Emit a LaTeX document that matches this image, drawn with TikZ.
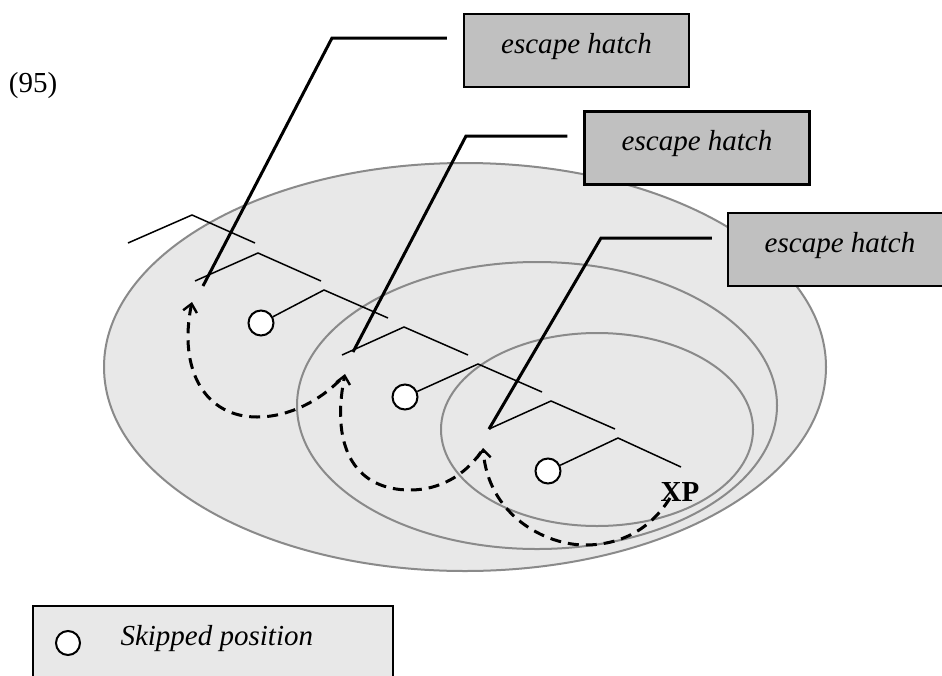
\documentclass[tikz,border=0pt]{standalone}
\usepackage{fontspec}
\setmainfont{Liberation Serif}
\usetikzlibrary{arrows.meta}
\definecolor{ellfill}{HTML}{E8E8E8}
\definecolor{ellline}{HTML}{8A8A8A}
\definecolor{boxfill}{HTML}{C0C0C0}
\newcommand\diagfont{\fontsize{29}{35}\selectfont}
\tikzset{
  region/.style={fill=ellfill, draw=ellline, line width=2pt},
  branch/.style={line width=1.5pt},
  leader/.style={line width=3pt},
  hatchbox/.style={draw, line width=2.5pt, fill=boxfill, minimum width=225pt,
    minimum height=73pt, inner sep=0pt, text height=12pt, text depth=7pt,
    font=\diagfont\itshape},
  skipped/.style={circle, draw, fill=white, line width=2pt, minimum size=25pt, inner sep=0pt},
  movearrow/.style={line width=3pt, dash pattern=on 11pt off 7pt,
    -{Straight Barb[length=8pt,width=14pt,line width=2.4pt]}},
  plain/.style={font=\diagfont}
}
\begin{document}
\begin{tikzpicture}[x=1pt,y=-1pt]
\useasboundingbox (0,0) rectangle (942,675);
\fill[white] (0,0) rectangle (942,675);
\clip (0,0) rectangle (942,675);

% nested regions
\draw[region] (465,367) ellipse [x radius=361, y radius=204];
\draw[region] (537,405.5) ellipse [x radius=240, y radius=143.5];
\draw[region] (597,429.5) ellipse [x radius=156, y radius=96.5];

% tree points
\coordinate (a1) at (128,243); \coordinate (a2) at (192,215); \coordinate (a3) at (255,243);
\coordinate (b1) at (195,281); \coordinate (b2) at (258,253); \coordinate (b3) at (321,281);
\node[skipped] (s1) at (261,323) {};
\coordinate (c2) at (324,290); \coordinate (c3) at (388,318);
\coordinate (d1) at (342,355); \coordinate (d2) at (404,327); \coordinate (d3) at (468,355);
\node[skipped] (s2) at (405,397) {};
\coordinate (e2) at (478,364); \coordinate (e3) at (542,392);
\coordinate (f1) at (489,429); \coordinate (f2) at (551,401); \coordinate (f3) at (615,429);
\node[skipped] (s3) at (548,471) {};
\coordinate (g2) at (618,438); \coordinate (g3) at (681,467);

\draw[branch] (a1) -- (a2) -- (a3);
\draw[branch] (b1) -- (b2) -- (b3);
\draw[branch] (s1) -- (c2) -- (c3);
\draw[branch] (d1) -- (d2) -- (d3);
\draw[branch] (s2) -- (e2) -- (e3);
\draw[branch] (f1) -- (f2) -- (f3);
\draw[branch] (s3) -- (g2) -- (g3);

\node[plain, font=\diagfont\bfseries] (xp) at (680,492) {XP};

% escape hatch boxes
\node[hatchbox] (h1) at (576.5,50.5) {escape hatch};
\node[hatchbox] (h2) at (697,148) {escape hatch};
\node[hatchbox, minimum width=224pt] (h3) at (840,249.5) {escape hatch};

% leaders
\coordinate (k1) at (332,38);  \coordinate (t1) at (203,286);
\coordinate (k2) at (466,136); \coordinate (t2) at (353,352);
\coordinate (k3) at (601,238);
\draw[leader, shorten <=16pt] (h1.west |- k1) -- (k1) -- (t1);
\draw[leader, shorten <=16pt] (h2.west |- k2) -- (k2) -- (t2);
\draw[leader, shorten <=15pt] (h3.west |- k3) -- (k3) -- (f1);

% movement arrows
\coordinate (p1) at (192,302);
\coordinate (q1) at (340,380);
\coordinate (p2) at (345,374);
\coordinate (q2) at (481,452);
\coordinate (p3) at (483,448);
\coordinate (q3) at (670,498);
\draw[movearrow] (q3) .. controls (650,530) and (620,545) .. (585,545)
  .. controls (545,545) and (488,515) .. (p3);
\draw[movearrow] (q2) .. controls (465,475) and (440,490) .. (410,490)
  .. controls (357,490) and (330,450) .. (p2);
\draw[movearrow] (q1) .. controls (320,400) and (290,417) .. (257,417)
  .. controls (205,417) and (178,370) .. (p1);

% example number
\node[plain] (num) at (33,86) {(95)};

% legend
\node[draw, line width=2pt, fill=ellfill, minimum width=360pt, minimum height=100pt,
  anchor=north west, inner sep=0pt] (legend) at (32,605) {};
\node[skipped, minimum size=24pt] (lc) at (68,643) {};
\node[plain, font=\diagfont\itshape, anchor=base west] (lt) at (117,645) {Skipped position};
\end{tikzpicture}
\end{document}
